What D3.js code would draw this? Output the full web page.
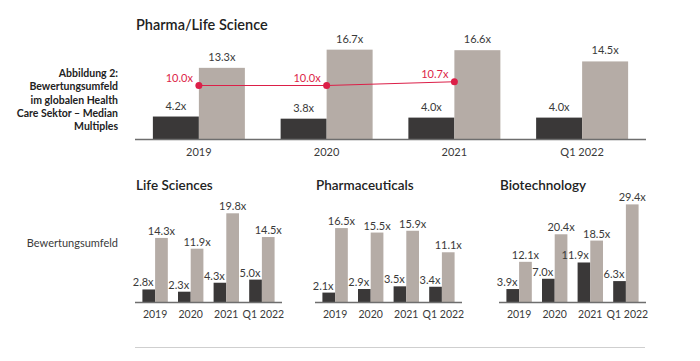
<!DOCTYPE html>
<html>
<head>
<meta charset="utf-8">
<script src="https://d3js.org/d3.v7.min.js"></script>
<style>
  body { margin: 0; background: #fff; }
  svg { font-family: Lato, "Open Sans", sans-serif; }
  .val { font-size: 11px; fill: #3a3a3a; }
  .tick { font-size: 11px; fill: #3a3a3a; }
  .small .tick { font-size: 10.5px; }
</style>
</head>
<body>
<div id="chart"></div>
<script>
// data
var periods = ["2019", "2020", "2021", "Q1 2022"];
var topDark = [4.2, 3.8, 4.0, 4.0];
var topLight = [13.3, 16.7, 16.6, 14.5];
var topLine = [10.0, 10.0, 10.7];

var panelNames = ["Life Sciences", "Pharmaceuticals", "Biotechnology"];
var lifeDark = [2.8, 2.3, 4.3, 5.0];
var lifeLight = [14.3, 11.9, 19.8, 14.5];
var pharmaDark = [2.1, 2.9, 3.5, 3.4];
var pharmaLight = [16.5, 15.5, 15.9, 11.1];
var bioDark = [3.9, 7.0, 11.9, 6.3];
var bioLight = [12.1, 20.4, 18.5, 29.4];

var DARK = "#3a3838", LIGHT = "#b5aca6", RED = "#dc1f48", AXIS = "#6e6e6e";

var svg = d3.select("#chart").append("svg")
  .attr("width", 700).attr("height", 361);

function fmt(v) { return v.toFixed(1) + "x"; }

// ---- top chart
var xTop = d3.scaleBand().domain(periods).range([135, 646]);
var yTop = d3.scaleLinear().domain([0, 20]).range([139, 32]);
var bwTop = 46;

svg.append("text").attr("x", 136).attr("y", 29.5)
  .style("font-size", "14.5px").style("font-weight", 600).style("fill", "#222")
  .text("Pharma/Life Science");

var lbl = ["Abbildung 2:", "Bewertungsumfeld", "im globalen Health", "Care Sektor \u2013 Median", "Multiples"];
svg.append("g").selectAll("text").data(lbl).enter().append("text")
  .attr("x", 118).attr("y", function(d, i) { return 77 + i * 13.3; })
  .attr("text-anchor", "end")
  .style("font-size", "10.5px").style("font-weight", 700).style("fill", "#222")
  .text(function(d) { return d; });

var gTop = svg.append("g");
periods.forEach(function(p, i) {
  var c = xTop(p) + xTop.bandwidth() / 2;
  gTop.append("rect").attr("x", c - bwTop).attr("width", bwTop)
    .attr("y", yTop(topDark[i])).attr("height", yTop(0) - yTop(topDark[i])).attr("fill", DARK);
  gTop.append("rect").attr("x", c).attr("width", bwTop)
    .attr("y", yTop(topLight[i])).attr("height", yTop(0) - yTop(topLight[i])).attr("fill", LIGHT);
  gTop.append("text").attr("class", "val").attr("text-anchor", "middle")
    .attr("x", c - bwTop / 2).attr("y", yTop(topDark[i]) - 7).text(fmt(topDark[i]));
  gTop.append("text").attr("class", "val").attr("text-anchor", "middle")
    .attr("x", c + bwTop / 2).attr("y", yTop(topLight[i]) - 7).text(fmt(topLight[i]));
  gTop.append("text").attr("class", "tick").attr("text-anchor", "middle")
    .attr("x", c).attr("y", 156).text(p);
});

var linePts = topLine.map(function(v, i) {
  return [xTop(periods[i]) + xTop.bandwidth() / 2, yTop(v)];
});
gTop.append("path").attr("d", d3.line()(linePts))
  .attr("fill", "none").attr("stroke", RED).attr("stroke-width", 1);
gTop.selectAll("circle").data(linePts).enter().append("circle")
  .attr("cx", function(d) { return d[0]; }).attr("cy", function(d) { return d[1]; })
  .attr("r", 3.5).attr("fill", RED);
gTop.selectAll("text.red").data(topLine).enter().append("text").attr("class", "red")
  .attr("x", function(d, i) { return linePts[i][0] - 6; })
  .attr("y", function(d, i) { return linePts[i][1] - 4; })
  .attr("text-anchor", "end").style("font-size", "11px").style("fill", RED)
  .text(fmt);

gTop.append("line").attr("x1", 135).attr("x2", 646).attr("y1", 139.5).attr("y2", 139.5)
  .attr("stroke", AXIS).attr("stroke-width", 1.5);

// ---- bottom panels
svg.append("text").attr("x", 118).attr("y", 247).attr("text-anchor", "end")
  .style("font-size", "11px").style("fill", "#3a3a3a").text("Bewertungsumfeld");

var panels = [
  { name: panelNames[0], x0: 135, dark: lifeDark, light: lifeLight, max: 20, top: 212.4 },
  { name: panelNames[1], x0: 315, dark: pharmaDark, light: pharmaLight, max: 20, top: 212.4 },
  { name: panelNames[2], x0: 499, dark: bioDark, light: bioLight, max: 30, top: 202.4 }
];
var base = 302, bw = 12.7;

panels.forEach(function(pn) {
  var g = svg.append("g").attr("class", "small");
  var x = d3.scaleBand().domain(periods).range([pn.x0, pn.x0 + 147]).paddingOuter(0.065);
  var y = d3.scaleLinear().domain([0, pn.max]).range([base, pn.top]);
  g.append("text").attr("x", pn.x0 + 1).attr("y", 189.5)
    .style("font-size", "13.5px").style("font-weight", 600).style("fill", "#222")
    .text(pn.name);
  periods.forEach(function(p, i) {
    var c = x(p) + x.bandwidth() / 2;
    g.append("rect").attr("x", c - bw).attr("width", bw)
      .attr("y", y(pn.dark[i])).attr("height", base - y(pn.dark[i])).attr("fill", DARK);
    g.append("rect").attr("x", c).attr("width", bw)
      .attr("y", y(pn.light[i])).attr("height", base - y(pn.light[i])).attr("fill", LIGHT);
    g.append("text").attr("class", "val").attr("text-anchor", "end")
      .attr("x", c - 1.5).attr("y", y(pn.dark[i]) - 3).text(fmt(pn.dark[i]));
    g.append("text").attr("class", "val").attr("text-anchor", "middle")
      .attr("x", c + bw / 2).attr("y", y(pn.light[i]) - 3).text(fmt(pn.light[i]));
    g.append("text").attr("class", "tick").attr("text-anchor", "middle")
      .attr("x", c + (i === 3 ? 1.5 : 0)).attr("y", 318).text(p);
  });
  g.append("line").attr("x1", pn.x0).attr("x2", pn.x0 + 147).attr("y1", base + 0.5).attr("y2", base + 0.5)
    .attr("stroke", AXIS).attr("stroke-width", 1.5);
});

svg.append("line").attr("x1", 135).attr("x2", 645).attr("y1", 347.5).attr("y2", 347.5)
  .attr("stroke", "#cfcfcf").attr("stroke-width", 1);
</script>
</body>
</html>
